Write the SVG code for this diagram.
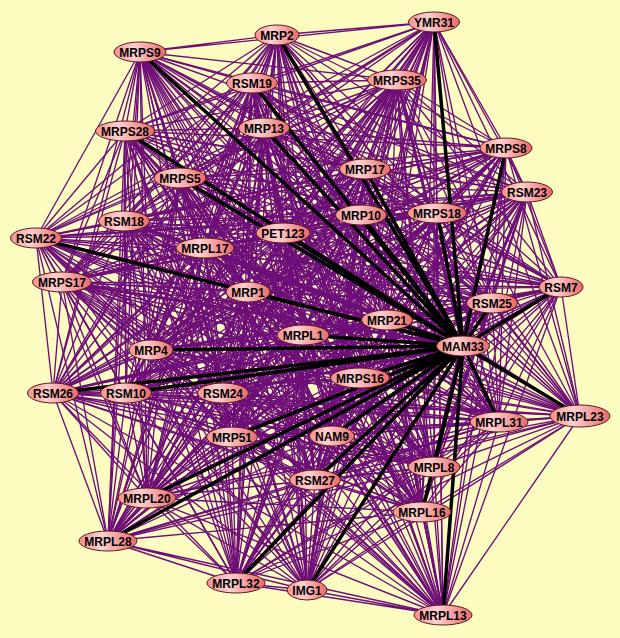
<svg xmlns="http://www.w3.org/2000/svg" width="620" height="638" viewBox="0 0 620 638">
<defs>
<linearGradient id="ng" x1="0" y1="0" x2="1" y2="0">
<stop offset="0" stop-color="#f39090"/>
<stop offset="0.38" stop-color="#ffd0d0"/>
<stop offset="1" stop-color="#ea6868"/>
</linearGradient>
<style>
.e{fill:none;stroke:#6e0e78;stroke-width:1.35;stroke-linejoin:round}
.tp{fill:none;stroke:#6e0e78;stroke-width:3}
.tb{fill:none;stroke:#000;stroke-width:3.5}
.n ellipse{fill:url(#ng);stroke:#5a1c1c;stroke-width:1}
.n text{font-family:"Liberation Sans",Arial,sans-serif;font-weight:bold;font-size:12px;text-anchor:middle;fill:#000}
</style>
</defs>
<rect width="620" height="638" fill="#fcfcc0"/>
<g id="connectors">
<polyline class="e" points="463,346 434,22 277,35 443,615 140,52 307,590 252,83 236,583 397,80 108,541 264,128 422,512 125,131 147,498 506,148 315,480 365,169 434,467 180,178 332,436 527,192 232,437 361,215 499,422 437,213 580,416 124,221 223,393 283,233 126,393 36,238 53,393 205,248 360,378 62,282 151,350 561,287 303,335 248,292 387,320 492,303 463,346"/>
<polyline class="e" points="463,346 277,35 140,52 434,22 252,83 443,615 397,80 307,590 264,128 236,583 125,131 108,541 506,148 422,512 365,169 147,498 180,178 315,480 527,192 434,467 361,215 332,436 437,213 232,437 124,221 499,422 283,233 580,416 36,238 223,393 205,248 126,393 62,282 53,393 561,287 360,378 248,292 151,350 492,303 303,335 387,320 463,346"/>
<polyline class="e" points="463,346 140,52 252,83 277,35 397,80 434,22 264,128 443,615 125,131 307,590 506,148 236,583 365,169 108,541 180,178 422,512 527,192 147,498 361,215 315,480 437,213 434,467 124,221 332,436 283,233 232,437 36,238 499,422 205,248 580,416 62,282 223,393 561,287 126,393 248,292 53,393 492,303 360,378 387,320 151,350 303,335 463,346"/>
<polyline class="e" points="463,346 252,83 397,80 140,52 264,128 277,35 125,131 434,22 506,148 443,615 365,169 307,590 180,178 236,583 527,192 108,541 361,215 422,512 437,213 147,498 124,221 315,480 283,233 434,467 36,238 332,436 205,248 232,437 62,282 499,422 561,287 580,416 248,292 223,393 492,303 126,393 387,320 53,393 303,335 360,378 151,350 463,346"/>
<polyline class="e" points="463,346 397,80 264,128 252,83 125,131 140,52 506,148 277,35 365,169 434,22 180,178 443,615 527,192 307,590 361,215 236,583 437,213 108,541 124,221 422,512 283,233 147,498 36,238 315,480 205,248 434,467 62,282 332,436 561,287 232,437 248,292 499,422 492,303 580,416 387,320 223,393 303,335 126,393 151,350 53,393 360,378 463,346"/>
<polyline class="e" points="463,346 264,128 125,131 397,80 506,148 252,83 365,169 140,52 180,178 277,35 527,192 434,22 361,215 443,615 437,213 307,590 124,221 236,583 283,233 108,541 36,238 422,512 205,248 147,498 62,282 315,480 561,287 434,467 248,292 332,436 492,303 232,437 387,320 499,422 303,335 580,416 151,350 223,393 360,378 126,393 53,393 463,346"/>
<polyline class="e" points="463,346 125,131 506,148 264,128 365,169 397,80 180,178 252,83 527,192 140,52 361,215 277,35 437,213 434,22 124,221 443,615 283,233 307,590 36,238 236,583 205,248 108,541 62,282 422,512 561,287 147,498 248,292 315,480 492,303 434,467 387,320 332,436 303,335 232,437 151,350 499,422 360,378 580,416 53,393 223,393 126,393 463,346"/>
<polyline class="e" points="463,346 506,148 365,169 125,131 180,178 264,128 527,192 397,80 361,215 252,83 437,213 140,52 124,221 277,35 283,233 434,22 36,238 443,615 205,248 307,590 62,282 236,583 561,287 108,541 248,292 422,512 492,303 147,498 387,320 315,480 303,335 434,467 151,350 332,436 360,378 232,437 53,393 499,422 126,393 580,416 223,393 463,346"/>
<polyline class="e" points="463,346 365,169 180,178 506,148 527,192 125,131 361,215 264,128 437,213 397,80 124,221 252,83 283,233 140,52 36,238 277,35 205,248 434,22 62,282 443,615 561,287 307,590 248,292 236,583 492,303 108,541 387,320 422,512 303,335 147,498 151,350 315,480 360,378 434,467 53,393 332,436 126,393 232,437 223,393 499,422 580,416 463,346"/>
<polyline class="e" points="463,346 180,178 527,192 365,169 361,215 506,148 437,213 125,131 124,221 264,128 283,233 397,80 36,238 252,83 205,248 140,52 62,282 277,35 561,287 434,22 248,292 443,615 492,303 307,590 387,320 236,583 303,335 108,541 151,350 422,512 360,378 147,498 53,393 315,480 126,393 434,467 223,393 332,436 580,416 232,437 499,422 463,346"/>
<polyline class="e" points="463,346 527,192 361,215 180,178 437,213 365,169 124,221 506,148 283,233 125,131 36,238 264,128 205,248 397,80 62,282 252,83 561,287 140,52 248,292 277,35 492,303 434,22 387,320 443,615 303,335 307,590 151,350 236,583 360,378 108,541 53,393 422,512 126,393 147,498 223,393 315,480 580,416 434,467 499,422 332,436 232,437 463,346"/>
<polyline class="e" points="463,346 361,215 437,213 527,192 124,221 180,178 283,233 365,169 36,238 506,148 205,248 125,131 62,282 264,128 561,287 397,80 248,292 252,83 492,303 140,52 387,320 277,35 303,335 434,22 151,350 443,615 360,378 307,590 53,393 236,583 126,393 108,541 223,393 422,512 580,416 147,498 499,422 315,480 232,437 434,467 332,436 463,346"/>
<polyline class="e" points="463,346 437,213 124,221 361,215 283,233 527,192 36,238 180,178 205,248 365,169 62,282 506,148 561,287 125,131 248,292 264,128 492,303 397,80 387,320 252,83 303,335 140,52 151,350 277,35 360,378 434,22 53,393 443,615 126,393 307,590 223,393 236,583 580,416 108,541 499,422 422,512 232,437 147,498 332,436 315,480 434,467 463,346"/>
<polyline class="e" points="463,346 124,221 283,233 437,213 36,238 361,215 205,248 527,192 62,282 180,178 561,287 365,169 248,292 506,148 492,303 125,131 387,320 264,128 303,335 397,80 151,350 252,83 360,378 140,52 53,393 277,35 126,393 434,22 223,393 443,615 580,416 307,590 499,422 236,583 232,437 108,541 332,436 422,512 434,467 147,498 315,480 463,346"/>
<polyline class="e" points="463,346 283,233 36,238 124,221 205,248 437,213 62,282 361,215 561,287 527,192 248,292 180,178 492,303 365,169 387,320 506,148 303,335 125,131 151,350 264,128 360,378 397,80 53,393 252,83 126,393 140,52 223,393 277,35 580,416 434,22 499,422 443,615 232,437 307,590 332,436 236,583 434,467 108,541 315,480 422,512 147,498 463,346"/>
<polyline class="e" points="463,346 36,238 205,248 283,233 62,282 124,221 561,287 437,213 248,292 361,215 492,303 527,192 387,320 180,178 303,335 365,169 151,350 506,148 360,378 125,131 53,393 264,128 126,393 397,80 223,393 252,83 580,416 140,52 499,422 277,35 232,437 434,22 332,436 443,615 434,467 307,590 315,480 236,583 147,498 108,541 422,512 463,346"/>
<polyline class="e" points="463,346 205,248 62,282 36,238 561,287 283,233 248,292 124,221 492,303 437,213 387,320 361,215 303,335 527,192 151,350 180,178 360,378 365,169 53,393 506,148 126,393 125,131 223,393 264,128 580,416 397,80 499,422 252,83 232,437 140,52 332,436 277,35 434,467 434,22 315,480 443,615 147,498 307,590 422,512 236,583 108,541 463,346"/>
<polyline class="e" points="463,346 62,282 561,287 205,248 248,292 36,238 492,303 283,233 387,320 124,221 303,335 437,213 151,350 361,215 360,378 527,192 53,393 180,178 126,393 365,169 223,393 506,148 580,416 125,131 499,422 264,128 232,437 397,80 332,436 252,83 434,467 140,52 315,480 277,35 147,498 434,22 422,512 443,615 108,541 307,590 236,583 463,346"/>
<polyline class="e" points="463,346 561,287 248,292 62,282 492,303 205,248 387,320 36,238 303,335 283,233 151,350 124,221 360,378 437,213 53,393 361,215 126,393 527,192 223,393 180,178 580,416 365,169 499,422 506,148 232,437 125,131 332,436 264,128 434,467 397,80 315,480 252,83 147,498 140,52 422,512 277,35 108,541 434,22 236,583 443,615 307,590 463,346"/>
<polyline class="e" points="463,346 248,292 492,303 561,287 387,320 62,282 303,335 205,248 151,350 36,238 360,378 283,233 53,393 124,221 126,393 437,213 223,393 361,215 580,416 527,192 499,422 180,178 232,437 365,169 332,436 506,148 434,467 125,131 315,480 264,128 147,498 397,80 422,512 252,83 108,541 140,52 236,583 277,35 307,590 434,22 443,615 463,346"/>
<path class="tp" d="M463 346L397 80M463 346L527 192M463 346L124 221M463 346L205 248M463 346L62 282M463 346L223 393"/>
<path class="tb" d="M463 346L434 22M463 346L277 35M463 346L140 52M463 346L252 83M463 346L264 128M463 346L125 131M463 346L506 148M463 346L365 169M463 346L180 178M463 346L361 215M463 346L437 213M463 346L283 233M463 346L36 238M463 346L561 287M463 346L248 292M463 346L492 303M463 346L387 320M463 346L303 335M463 346L151 350M463 346L360 378M463 346L53 393M463 346L126 393M463 346L580 416M463 346L499 422M463 346L232 437M463 346L332 436M463 346L434 467M463 346L315 480M463 346L147 498M463 346L422 512M463 346L108 541M463 346L236 583M463 346L307 590M463 346L443 615"/>
</g>
<g id="YMR31" class="n"><ellipse cx="434" cy="22" rx="25.5" ry="10"/><text x="434" y="26.5">YMR31</text></g>
<g id="MRP2" class="n"><ellipse cx="277" cy="35" rx="22" ry="10"/><text x="277" y="39.5">MRP2</text></g>
<g id="MRPS9" class="n"><ellipse cx="140" cy="52" rx="26" ry="10"/><text x="140" y="56.5">MRPS9</text></g>
<g id="RSM19" class="n"><ellipse cx="252" cy="83" rx="25.5" ry="10"/><text x="252" y="87.5">RSM19</text></g>
<g id="MRPS35" class="n"><ellipse cx="397" cy="80" rx="29.5" ry="10"/><text x="397" y="84.5">MRPS35</text></g>
<g id="MRP13" class="n"><ellipse cx="264" cy="128" rx="25.5" ry="10"/><text x="264" y="132.5">MRP13</text></g>
<g id="MRPS28" class="n"><ellipse cx="125" cy="131" rx="29.5" ry="10"/><text x="125" y="135.5">MRPS28</text></g>
<g id="MRPS8" class="n"><ellipse cx="506" cy="148" rx="26" ry="10"/><text x="506" y="152.5">MRPS8</text></g>
<g id="MRP17" class="n"><ellipse cx="365" cy="169" rx="25.5" ry="10"/><text x="365" y="173.5">MRP17</text></g>
<g id="MRPS5" class="n"><ellipse cx="180" cy="178" rx="26" ry="10"/><text x="180" y="182.5">MRPS5</text></g>
<g id="RSM23" class="n"><ellipse cx="527" cy="192" rx="25.5" ry="10"/><text x="527" y="196.5">RSM23</text></g>
<g id="MRP10" class="n"><ellipse cx="361" cy="215" rx="25.5" ry="10"/><text x="361" y="219.5">MRP10</text></g>
<g id="MRPS18" class="n"><ellipse cx="437" cy="213" rx="29.5" ry="10"/><text x="437" y="217.5">MRPS18</text></g>
<g id="RSM18" class="n"><ellipse cx="124" cy="221" rx="25.5" ry="10"/><text x="124" y="225.5">RSM18</text></g>
<g id="PET123" class="n"><ellipse cx="283" cy="233" rx="27" ry="10"/><text x="283" y="237.5">PET123</text></g>
<g id="RSM22" class="n"><ellipse cx="36" cy="238" rx="25.5" ry="10"/><text x="36" y="242.5">RSM22</text></g>
<g id="MRPL17" class="n"><ellipse cx="205" cy="248" rx="29" ry="10"/><text x="205" y="252.5">MRPL17</text></g>
<g id="MRPS17" class="n"><ellipse cx="62" cy="282" rx="29.5" ry="10"/><text x="62" y="286.5">MRPS17</text></g>
<g id="RSM7" class="n"><ellipse cx="561" cy="287" rx="22" ry="10"/><text x="561" y="291.5">RSM7</text></g>
<g id="MRP1" class="n"><ellipse cx="248" cy="292" rx="22" ry="10"/><text x="248" y="296.5">MRP1</text></g>
<g id="RSM25" class="n"><ellipse cx="492" cy="303" rx="25.5" ry="10"/><text x="492" y="307.5">RSM25</text></g>
<g id="MRP21" class="n"><ellipse cx="387" cy="320" rx="25.5" ry="10"/><text x="387" y="324.5">MRP21</text></g>
<g id="MRPL1" class="n"><ellipse cx="303" cy="335" rx="26" ry="10"/><text x="303" y="339.5">MRPL1</text></g>
<g id="MAM33" class="n"><ellipse cx="463" cy="346" rx="26.5" ry="10"/><text x="463" y="350.5">MAM33</text></g>
<g id="MRP4" class="n"><ellipse cx="151" cy="350" rx="22" ry="10"/><text x="151" y="354.5">MRP4</text></g>
<g id="MRPS16" class="n"><ellipse cx="360" cy="378" rx="29.5" ry="10"/><text x="360" y="382.5">MRPS16</text></g>
<g id="RSM26" class="n"><ellipse cx="53" cy="393" rx="25.5" ry="10"/><text x="53" y="397.5">RSM26</text></g>
<g id="RSM10" class="n"><ellipse cx="126" cy="393" rx="25.5" ry="10"/><text x="126" y="397.5">RSM10</text></g>
<g id="RSM24" class="n"><ellipse cx="223" cy="393" rx="25.5" ry="10"/><text x="223" y="397.5">RSM24</text></g>
<g id="MRPL23" class="n"><ellipse cx="580" cy="416" rx="30" ry="11"/><text x="580" y="420.5">MRPL23</text></g>
<g id="MRPL31" class="n"><ellipse cx="499" cy="422" rx="29" ry="10"/><text x="499" y="426.5">MRPL31</text></g>
<g id="MRP51" class="n"><ellipse cx="232" cy="437" rx="25.5" ry="10"/><text x="232" y="441.5">MRP51</text></g>
<g id="NAM9" class="n"><ellipse cx="332" cy="436" rx="22.5" ry="10"/><text x="332" y="440.5">NAM9</text></g>
<g id="MRPL8" class="n"><ellipse cx="434" cy="467" rx="26" ry="10"/><text x="434" y="471.5">MRPL8</text></g>
<g id="RSM27" class="n"><ellipse cx="315" cy="480" rx="25.5" ry="10"/><text x="315" y="484.5">RSM27</text></g>
<g id="MRPL20" class="n"><ellipse cx="147" cy="498" rx="29" ry="10"/><text x="147" y="502.5">MRPL20</text></g>
<g id="MRPL16" class="n"><ellipse cx="422" cy="512" rx="29" ry="10"/><text x="422" y="516.5">MRPL16</text></g>
<g id="MRPL28" class="n"><ellipse cx="108" cy="541" rx="29" ry="10"/><text x="108" y="545.5">MRPL28</text></g>
<g id="MRPL32" class="n"><ellipse cx="236" cy="583" rx="29" ry="10"/><text x="236" y="587.5">MRPL32</text></g>
<g id="IMG1" class="n"><ellipse cx="307" cy="590" rx="20" ry="10"/><text x="307" y="594.5">IMG1</text></g>
<g id="MRPL13" class="n"><ellipse cx="443" cy="615" rx="29" ry="10"/><text x="443" y="619.5">MRPL13</text></g>
</svg>
